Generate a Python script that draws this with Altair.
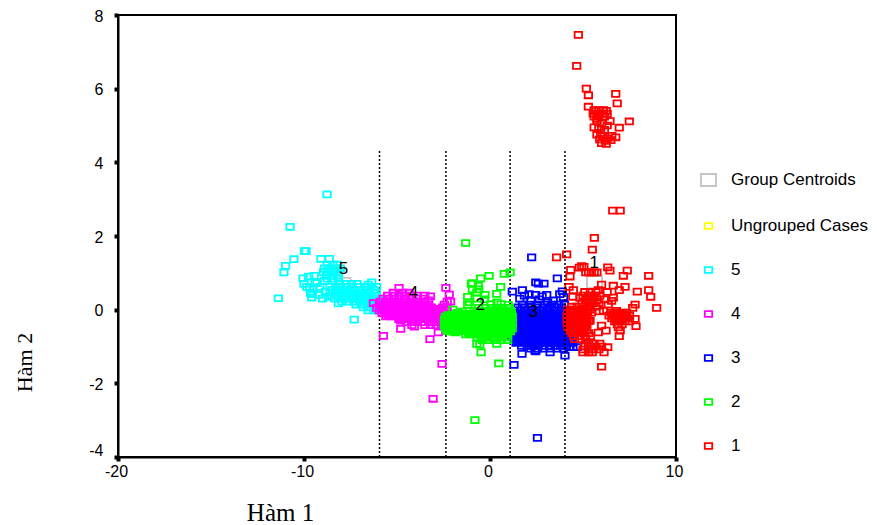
import altair as alt
import pandas as pd

GROUPS = ["Group Centroids", "Ungrouped Cases", "5", "4", "3", "2", "1"]
COLORS = ["#c4c4c4", "#ffff00", "#00ffff", "#ff00ff", "#0000ff", "#00ff00", "#ff0000"]
SIZES = [225, 55, 55, 55, 55, 55, 55]
BOX = "M-1,-0.8H1V0.8H-1Z"

CUT_X = [-5.94, -2.37, 1.08]
CUT_LAST = [4.03]
CUT_Y = [-4, 4.32]

CENTROID_X = [5.62, -4.1, -0.5, 2.3, -7.9]
CENTROID_Y = [0.75, 0.05, -0.3, -0.45, 0.7]
CENTROID_G = ["Group Centroids"] * 5

LABELS = ["1", "2", "3", "4", "5"]
LABEL_X = [5.6, -0.53, 2.33, -4.12, -7.88]
LABEL_Y = [1.27, 0.13, -0.06, 0.45, 1.1]

CYAN_X = [-8.76, -10.75, -9.89, -9.98, -10.54, -10.99, -11.08, -11.38, -9.09, -8.64, -7.3, -8.15, -9.59, -6.36, -6.55,
          -10.05, -10.0, -9.75, -9.45, -9.3, -9.7, -9.5, -9.15, -8.9, -9.55, -9.2, -8.85, -9.4, -9.65, -9.85, -9.0, -8.7]
CYAN_Y = [3.13, 2.25, 1.59, 1.59, 1.37, 1.19, 1.01, 0.31, 1.38, 1.38, -0.27, 0.17, 0.33, 0.74, 0.68,
          0.85, 0.7, 0.9, 0.92, 0.72, 0.6, 0.55, 0.62, 0.78, 0.42, 0.4, 0.5, 0.75, 0.45, 0.62, 0.3, 0.35]
CYAN_ROWS = [
    (1.22, [-8.75, -8.45, -8.2]),
    (1.12, [-8.9, -8.6, -8.3, -8.05]),
    (1.02, [-8.95, -8.7, -8.4, -8.15]),
    (0.92, [-8.8, -8.5, -8.2]),
    (0.84, [-8.75, -8.45, -8.15]),
    (0.70, [-8.1, -7.75, -7.45, -7.15]),
    (0.62, [-8.6, -8.3, -8.0, -7.7, -7.4, -7.05, -6.7, -6.4, -6.1]),
    (0.54, [-8.45, -8.15, -7.85, -7.55, -7.25, -6.95, -6.6, -6.25]),
    (0.46, [-8.6, -8.3, -8.0, -7.7, -7.4, -7.1, -6.8, -6.5, -6.2]),
    (0.38, [-8.5, -8.2, -7.9, -7.6, -7.3, -7.0, -6.7, -6.4, -6.1]),
    (0.30, [-8.35, -8.05, -7.75, -7.45, -7.15, -6.85, -6.55, -6.25, -6.0]),
    (0.22, [-7.95, -7.65, -7.3, -7.0, -6.7, -6.4, -6.1]),
    (0.14, [-7.2, -6.9, -6.6, -6.3, -6.05]),
    (0.06, [-6.8, -6.5, -6.2]),
    (-0.02, [-6.55, -6.25, -6.05]),
]

MAGENTA_X = [-4.89, -6.27, -6.09, -5.73, -4.8, -4.8, -4.07, -3.23, -2.78, -2.37, -2.19, -3.5, -3.2, -2.58, -3.06, -2.12, -3.3, -4.2]
MAGENTA_Y = [0.59, 0.18, 0.05, -0.71, -0.52, -0.3, -0.46, -0.8, -0.62, 0.59, 0.41, 0.38, 0.36, -1.47, -2.42, 0.22, 0.25, -0.42]
MAGENTA_ROWS = [
    (0.46, [-5.2, -4.7, -4.35]),
    (0.38, [-5.5, -5.2, -4.9, -4.6, -4.3, -3.95]),
    (0.30, [-5.75, -5.45, -5.15, -4.85, -4.55, -4.25, -3.95, -3.55]),
    (0.22, [-5.9, -5.6, -5.3, -5.0, -4.7, -4.4, -4.1, -3.8, -3.5, -2.3]),
    (0.14, [-5.95, -5.7, -5.4, -5.1, -4.8, -4.5, -4.2, -3.9, -3.6, -3.3, -2.45]),
    (0.10, [-5.8, -5.55, -5.25, -4.95, -4.65, -4.35, -4.05, -3.75, -3.45]),
    (0.06, [-5.85, -5.55, -5.25, -4.95, -4.65, -4.35, -4.05, -3.75, -3.45, -3.15, -2.55, -2.3]),
    (0.02, [-5.7, -5.4, -5.1, -4.8, -4.5, -4.2, -3.9, -3.6, -3.3, -3.0, -2.7]),
    (-0.02, [-5.95, -5.65, -5.35, -5.05, -4.75, -4.45, -4.15, -3.85, -3.55, -3.25, -2.95, -2.65, -2.4]),
    (-0.06, [-5.65, -5.35, -5.05, -4.75, -4.45, -4.15, -3.85, -3.55, -3.25, -2.95, -2.65]),
    (-0.10, [-5.8, -5.5, -5.2, -4.9, -4.6, -4.3, -4.0, -3.7, -3.4, -3.1, -2.8, -2.5]),
    (-0.14, [-5.45, -5.15, -4.85, -4.55, -4.25, -3.95, -3.65, -3.35, -3.05, -2.75, -2.45]),
    (-0.18, [-5.6, -5.3, -5.0, -4.7, -4.4, -4.1, -3.8, -3.5, -3.2, -2.9, -2.6, -2.4]),
    (-0.22, [-4.75, -4.45, -4.15, -3.85, -3.55, -3.25, -2.95, -2.65]),
    (-0.26, [-4.9, -4.6, -4.3, -4.0, -3.7, -3.4, -3.1, -2.8, -2.5]),
    (-0.34, [-4.5, -4.2, -3.9, -3.6, -3.3, -3.0, -2.7, -2.45]),
    (-0.42, [-3.5, -3.2, -2.9, -2.6]),
]

BLUE_X = [2.24, 3.62, 2.46, 2.6, 2.9, 1.2, 1.74, 3.89, 2.55, 1.29, 1.72, 2.42, 2.46, 4.03, 4.46, 4.7, 4.25, 3.23,
          1.85, 2.1, 2.45, 2.8, 3.05, 3.75, 3.95, 2.2, 2.65, 3.4, 3.1, 1.6]
BLUE_Y = [1.42, 0.85, 0.74, 0.71, 0.71, 0.49, 0.53, 0.5, -3.48, -1.5, -1.2, -1.11, -1.13, -1.25, -1.02, -1.02, -1.02, -1.16,
          0.38, 0.42, 0.4, 0.36, 0.4, 0.42, 0.34, 0.25, 0.28, 0.25, 0.2, 0.3]
BLUE_ROWS = [
    (0.14, [1.75, 2.1, 2.55, 2.95, 3.3, 3.7, 4.0]),
    (0.06, [1.5, 1.85, 2.2, 2.5, 2.85, 3.2, 3.5, 3.85]),
    (-0.02, [1.3, 1.65, 2.0, 2.35, 2.7, 3.05, 3.4, 3.75, 4.0]),
    (-0.10, [1.15, 1.45, 1.75, 2.05, 2.35, 2.65, 2.95, 3.25, 3.55, 3.85, 4.1]),
    (-0.14, [1.3, 1.6, 1.9, 2.2, 2.5, 2.8, 3.1, 3.4, 3.7, 4.0]),
    (-0.18, [1.3, 1.6, 1.9, 2.2, 2.5, 2.8, 3.1, 3.4, 3.7, 4.0]),
    (-0.22, [1.15, 1.45, 1.75, 2.05, 2.35, 2.65, 2.95, 3.25, 3.55, 3.85, 4.15]),
    (-0.26, [1.15, 1.45, 1.75, 2.05, 2.35, 2.65, 2.95, 3.25, 3.55, 3.85, 4.15]),
    (-0.30, [1.3, 1.6, 1.9, 2.2, 2.5, 2.8, 3.1, 3.4, 3.7, 4.0]),
    (-0.34, [1.3, 1.6, 1.9, 2.2, 2.5, 2.8, 3.1, 3.4, 3.7, 4.0]),
    (-0.38, [1.15, 1.45, 1.75, 2.05, 2.35, 2.65, 2.95, 3.25, 3.55, 3.85, 4.15]),
    (-0.42, [1.15, 1.45, 1.75, 2.05, 2.35, 2.65, 2.95, 3.25, 3.55, 3.85, 4.15]),
    (-0.46, [1.3, 1.6, 1.9, 2.2, 2.5, 2.8, 3.1, 3.4, 3.7, 4.0]),
    (-0.50, [1.3, 1.6, 1.9, 2.2, 2.5, 2.8, 3.1, 3.4, 3.7, 4.0]),
    (-0.54, [1.15, 1.45, 1.75, 2.05, 2.35, 2.65, 2.95, 3.25, 3.55, 3.85, 4.15]),
    (-0.58, [1.15, 1.45, 1.75, 2.05, 2.35, 2.65, 2.95, 3.25, 3.55, 3.85, 4.15]),
    (-0.62, [1.3, 1.6, 1.9, 2.2, 2.5, 2.8, 3.1, 3.4, 3.7, 4.0]),
    (-0.66, [1.3, 1.6, 1.9, 2.2, 2.5, 2.8, 3.1, 3.4, 3.7, 4.0]),
    (-0.70, [1.15, 1.45, 1.75, 2.05, 2.35, 2.65, 2.95, 3.25, 3.55, 3.85, 4.15]),
    (-0.74, [1.2, 1.5, 1.8, 2.1, 2.4, 2.7, 3.0, 3.3, 3.6, 3.9, 4.2]),
    (-0.78, [1.35, 1.65, 1.95, 2.25, 2.55, 2.85, 3.15, 3.45, 3.75, 4.05]),
    (-0.82, [1.3, 1.6, 1.9, 2.2, 2.5, 2.8, 3.1, 3.4, 3.7, 4.0, 4.3]),
    (-0.86, [1.45, 1.75, 2.05, 2.35, 2.65, 2.95, 3.25, 3.55, 3.85, 4.15]),
    (-0.90, [1.4, 1.75, 2.05, 2.35, 2.65, 2.95, 3.25, 3.55, 3.85, 4.15, 4.4]),
    (-0.98, [1.7, 2.0, 2.3, 2.6, 2.9, 3.2, 3.5, 3.8, 4.1]),
    (-1.06, [2.2, 2.55, 2.85, 3.25, 3.6, 3.95]),
]

GREEN_X = [-1.31, -0.81, -0.05, -0.5, -0.95, -1.0, 0.77, 1.08, 0.57, -0.63, -0.71, -1.2, -0.27, 0.36, -1.2, -0.7, -0.3, 0.38,
           0.98, -2.0, -1.76, 0.36, -0.71, -0.55, -0.48, 0.47, -1.88, -0.95, -0.6, 0.05, 0.6, -1.1, -1.5]
GREEN_Y = [1.81, -3.0, 0.92, 0.85, 0.72, 0.7, 0.97, 1.01, 0.62, 0.65, 0.47, 0.35, 0.4, 0.43, 0.13, 0.3, 0.28, 0.2,
           0.13, 0.0, -0.09, -0.93, -0.93, -0.95, -1.16, -1.46, -0.62, 0.55, 0.55, 0.15, 0.15, 0.2, -0.05]
GREEN_ROWS = [
    (0.05, [-0.6, -0.25, 0.1, 0.4, 0.75, 1.05]),
    (-0.03, [-0.85, -0.55, -0.3, 0.0, 0.25, 0.55, 0.8, 1.1]),
    (-0.07, [-0.7, -0.4, -0.15, 0.15, 0.4, 0.7, 0.95]),
    (-0.11, [-1.8, -1.5, -1.1, -0.75, -0.45, -0.2, 0.1, 0.35, 0.6, 0.9, 1.15]),
    (-0.15, [-2.25, -1.95, -1.7, -1.45, -1.2, -0.95, -0.65, -0.4, -0.15, 0.05, 0.3, 0.55, 0.85, 1.1]),
    (-0.19, [-2.4, -2.1, -1.85, -1.6, -1.3, -1.05, -0.8, -0.55, -0.3, -0.05, 0.2, 0.45, 0.75, 1.0, 1.2]),
    (-0.23, [-2.3, -2.0, -1.75, -1.5, -1.2, -0.95, -0.7, -0.45, -0.2, 0.05, 0.3, 0.55, 0.85, 1.1]),
    (-0.27, [-2.45, -2.2, -1.95, -1.7, -1.4, -1.15, -0.9, -0.65, -0.4, -0.15, 0.1, 0.35, 0.6, 0.85, 1.1]),
    (-0.31, [-2.3, -2.05, -1.8, -1.55, -1.25, -1.0, -0.75, -0.5, -0.25, 0.0, 0.25, 0.5, 0.75, 1.0]),
    (-0.35, [-2.4, -2.1, -1.85, -1.55, -1.3, -1.05, -0.8, -0.55, -0.3, -0.05, 0.2, 0.45, 0.7, 0.95, 1.2]),
    (-0.39, [-2.25, -2.0, -1.7, -1.45, -1.2, -0.95, -0.7, -0.45, -0.2, 0.05, 0.3, 0.55, 0.8, 1.05]),
    (-0.43, [-2.45, -2.2, -1.95, -1.7, -1.4, -1.15, -0.9, -0.65, -0.4, -0.15, 0.1, 0.35, 0.6, 0.85, 1.1]),
    (-0.47, [-2.3, -2.05, -1.8, -1.55, -1.25, -1.0, -0.75, -0.5, -0.25, 0.0, 0.25, 0.5, 0.75, 1.0]),
    (-0.51, [-2.4, -2.1, -1.85, -1.55, -1.3, -1.05, -0.8, -0.55, -0.3, -0.05, 0.2, 0.45, 0.7, 0.95, 1.2]),
    (-0.55, [-2.2, -1.95, -1.7, -1.45, -1.2, -0.95, -0.7, -0.45, -0.2, 0.05, 0.3, 0.55, 0.8, 1.05]),
    (-0.59, [-2.3, -2.0, -1.7, -1.4, -1.15, -0.9, -0.65, -0.4, -0.15, 0.1, 0.35, 0.6, 0.85, 1.1]),
    (-0.63, [-1.15, -0.9, -0.65, -0.4, -0.15, 0.1, 0.35, 0.6, 0.85]),
    (-0.67, [-1.3, -1.05, -0.8, -0.55, -0.3, -0.05, 0.2, 0.45, 0.7, 0.95]),
    (-0.75, [-0.7, -0.45, -0.2, 0.1, 0.35, 0.6, 0.85]),
    (-0.83, [-0.4, -0.1, 0.25, 0.6, 0.95]),
]

RED_X = [4.75, 4.66, 5.18, 5.29, 5.29, 6.76, 6.84, 7.49, 6.95, 6.76, 5.7, 6.25, 6.45, 5.75, 6.0, 6.3, 5.85, 6.15, 5.95, 6.55,
         5.75, 6.05, 6.3, 5.9, 6.2, 6.0, 6.25, 6.5, 5.6, 5.75,
         6.6, 7.0, 5.61, 5.5, 4.12, 4.93, 4.8, 5.05, 4.34, 4.3, 5.15, 5.3, 5.45, 5.6, 5.75, 6.33, 6.45, 7.17, 7.38, 8.53, 3.58,
         4.25, 4.48, 4.45, 6.0, 6.63, 7.26, 6.95, 7.92, 8.53, 8.64, 8.96, 7.8, 7.67, 4.84, 6.63, 6.54, 6.36, 5.82, 6.1, 5.88, 6.8,
         7.8, 7.85, 7.0, 6.95, 6.0, 5.82, 6.24, 5.38, 6.33, 6.13, 6.0]
RED_Y = [7.46, 6.62, 6.0, 5.82, 5.51, 5.86, 5.6, 5.11, 4.94, 4.68, 5.4, 5.4, 5.12, 5.12, 5.05, 5.0, 4.92, 4.88, 4.8, 4.72,
         4.75, 4.72, 4.65, 4.62, 4.58, 4.52, 4.5, 4.6, 4.95, 5.18,
         2.69, 2.69, 1.95, 1.63, 1.5, 1.18, 1.14, 1.16, 1.08, 0.9, 1.01, 1.01, 1.01, 1.01, 1.01, 1.15, 1.06, 0.92, 1.06, 0.92, 1.42,
         0.62, 0.53, 0.35, 0.68, 0.65, 0.62, 0.53, 0.49, 0.53, 0.35, 0.05, 0.14, 0.05, 0.32, 0.33, 0.24, 0.14, 0.53, -0.03, -0.05, -0.03,
         -0.25, -0.45, -0.57, -0.72, -0.43, -0.62, -0.57, -0.3, -1.02, -1.16, -1.55]
RED_ROWS = [
    (5.42, [5.6, 5.85, 6.1]),
    (5.32, [5.55, 5.8, 6.05, 6.3]),
    (5.24, [5.6, 5.85, 6.15]),
    (0.48, [5.1, 5.4, 5.7, 6.3]),
    (0.38, [5.0, 5.3, 5.6, 5.9]),
    (0.28, [5.15, 5.45, 5.75, 6.15]),
    (0.18, [4.95, 5.25, 5.55, 5.85]),
    (0.08, [4.4, 4.7, 5.1, 5.4, 5.7]),
    (0.0, [4.2, 4.5, 4.8, 5.1, 5.35]),
    (-0.04, [4.35, 4.65, 4.95, 5.25]),
    (-0.08, [4.3, 4.6, 4.9, 5.2, 5.45, 6.5, 6.8, 7.1, 7.35]),
    (-0.12, [4.2, 4.5, 4.8, 5.1, 6.6, 6.95, 7.2]),
    (-0.16, [4.15, 4.45, 4.75, 5.05, 6.4, 6.65, 6.95, 7.25, 7.5]),
    (-0.20, [4.25, 4.55, 4.85, 5.15, 6.7, 7.0, 7.3]),
    (-0.24, [4.3, 4.6, 4.9, 5.2, 6.55, 6.85, 7.1, 7.4]),
    (-0.28, [4.2, 4.5, 4.8, 5.1, 6.8, 7.05]),
    (-0.32, [4.15, 4.45, 4.75, 5.05, 5.3, 6.7, 6.95, 7.25, 7.5]),
    (-0.36, [4.25, 4.55, 4.85, 5.15]),
    (-0.40, [4.3, 4.6, 4.9, 5.2, 6.85, 7.1]),
    (-0.44, [4.2, 4.5, 4.8, 5.05]),
    (-0.48, [4.2, 4.5, 4.8, 5.1, 6.9]),
    (-0.52, [4.35, 4.65, 4.95]),
    (-0.56, [4.3, 4.6, 4.9, 5.2]),
    (-0.60, [4.45, 4.75, 5.05]),
    (-0.64, [4.4, 4.7, 5.0, 5.3]),
    (-0.72, [4.5, 4.8, 5.1, 5.4]),
    (-0.80, [4.55, 4.85, 5.15]),
    (-0.92, [5.3, 5.6, 5.9]),
    (-1.0, [5.1, 5.4, 5.7, 6.0]),
    (-1.08, [5.0, 5.3, 5.55, 5.85]),
    (-1.16, [5.0, 5.3, 5.5]),
]


def rows(group, xs, ys, dense):
    out = [{"x": a, "y": b, "g": group} for a, b in zip(xs, ys)]
    for yv, row in dense:
        out += [{"x": a, "y": yv, "g": group} for a in row]
    return out


records = [{"x": a, "y": b, "g": c} for a, b, c in zip(CENTROID_X, CENTROID_Y, CENTROID_G)]
records += rows("5", CYAN_X, CYAN_Y, CYAN_ROWS)
records += rows("4", MAGENTA_X, MAGENTA_Y, MAGENTA_ROWS)
records += rows("3", BLUE_X, BLUE_Y, BLUE_ROWS)
records += rows("2", GREEN_X, GREEN_Y, GREEN_ROWS)
records += rows("1", RED_X, RED_Y, RED_ROWS)
points_df = pd.DataFrame(records)

x_scale = alt.Scale(domain=[-20, 10], nice=False, zero=False)
y_scale = alt.Scale(domain=[-4, 8], nice=False, zero=False)

points = alt.Chart(points_df).mark_point(shape=BOX, filled=False, strokeWidth=1.8, opacity=1).encode(
    x=alt.X("x:Q", scale=x_scale, axis=alt.Axis(
        values=[-20, -10, 0, 10], title="Hàm 1", grid=False, tickSize=4, tickWidth=4, tickColor="#000",
        domainColor="#000", domainWidth=2, labelFont="Liberation Sans", labelFontSize=16, labelColor="#000",
        labelPadding=2, titleFont="Liberation Serif", titleFontSize=25, titleFontWeight="normal", titleColor="#000",
        titleX=162, titleY=55, titleAnchor="middle", titleBaseline="middle", labelOverlap=False,
        labelFlush=False, labelOffset=-2, labelExpr="'' + datum.value")),
    y=alt.Y("y:Q", scale=y_scale, axis=alt.Axis(
        values=[-4, -2, 0, 2, 4, 6, 8], title="Hàm 2", grid=False, tickSize=4, tickWidth=4, tickColor="#000",
        domainColor="#000", domainWidth=2, labelFont="Liberation Sans", labelFontSize=16, labelColor="#000",
        labelPadding=11, labelOffset=1, titleFont="Liberation Serif", titleFontSize=22, titleFontWeight="normal",
        titleColor="#000", titleX=-94, titleY=347, titleAngle=270, titleAnchor="middle", titleBaseline="middle",
        labelOverlap=False, labelExpr="'' + datum.value",
        labelBaseline=alt.expr("datum.value == -4 ? 'bottom' : 'middle'"))),
    color=alt.Color("g:N", scale=alt.Scale(domain=GROUPS, range=COLORS), legend=alt.Legend(
        title=None, orient="none", legendX=582, legendY=156.5, symbolType=BOX, symbolStrokeWidth=1.8,
        labelFont="Liberation Sans", labelFontSize=17, labelColor="#000", rowPadding=26, labelOffset=14,
        symbolOpacity=1)),
    size=alt.Size("g:N", scale=alt.Scale(type="ordinal", domain=GROUPS, range=SIZES)),
)

cuts_low = alt.Chart(pd.DataFrame({"x": CUT_X, "y": [CUT_Y[0]] * 3, "y2": [CUT_Y[1]] * 3})).mark_rule(
    color="#000", strokeWidth=1.5, strokeDash=[2, 2]).encode(
    x=alt.X("x:Q", scale=x_scale), y=alt.Y("y:Q", scale=y_scale), y2="y2:Q")
cuts_high = alt.Chart(pd.DataFrame({"x": CUT_LAST, "y": [CUT_Y[0]], "y2": [CUT_Y[1]]})).mark_rule(
    color="#000", strokeWidth=1.5, strokeDash=[2, 2]).encode(
    x=alt.X("x:Q", scale=x_scale), y=alt.Y("y:Q", scale=y_scale), y2="y2:Q")
labels = alt.Chart(pd.DataFrame({"x": LABEL_X, "y": LABEL_Y, "t": LABELS})).mark_text(
    font="Liberation Sans", fontSize=17, color="#000", align="center", baseline="middle").encode(
    x=alt.X("x:Q", scale=x_scale), y=alt.Y("y:Q", scale=y_scale), text="t:N")

chart = alt.layer(cuts_low, points, cuts_high, labels).properties(
    width=558, height=442, autosize=alt.AutoSizeParams(type="none"), background="#ffffff",
    padding={"left": 110, "top": 7, "right": 193, "bottom": 68},
).configure_view(stroke="#000", strokeWidth=2)

chart.save("out.html", embed_options={"renderer": "svg", "actions": False})
